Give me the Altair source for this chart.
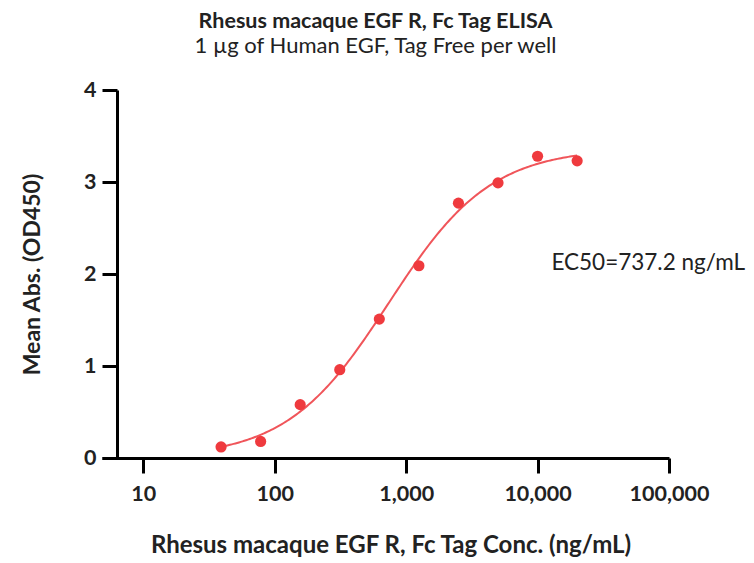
import altair as alt
import numpy as np
import pandas as pd

# Data
conc = [39.06, 78.13, 156.25, 312.5, 625, 1250, 2500, 5000, 10000, 20000]
od450 = [0.12, 0.18, 0.58, 0.96, 1.51, 2.09, 2.77, 2.99, 3.28, 3.23]
ec50 = 737.2
x_ticks = [10, 100, 1000, 10000, 100000]
y_ticks = [0, 1, 2, 3, 4]
ec50_label = "EC50=737.2 ng/mL"
ec50_label_pos = [12740, 2.12]

# 4PL fit with EC50 fixed (grid search least squares on the data points)
xc = np.array(conc, dtype=float)
yc = np.array(od450, dtype=float)
best = None
for b in np.linspace(0.0, 0.15, 16):
    for t in np.linspace(3.1, 3.7, 61):
        for h in np.linspace(0.8, 1.6, 81):
            pred = b + (t - b) / (1 + (ec50 / xc) ** h)
            sse = float(np.sum((pred - yc) ** 2))
            if best is None or sse < best[0]:
                best = (sse, b, t, h)
_, B, T, H = best
xs = np.logspace(np.log10(conc[0]), np.log10(conc[-1]), 200)
ys = B + (T - B) / (1 + (ec50 / xs) ** H)

pts = pd.DataFrame({"conc": conc, "od": od450})
curve = pd.DataFrame({"conc": xs, "od": ys})
lab = pd.DataFrame({"conc": [ec50_label_pos[0]], "od": [ec50_label_pos[1]], "t": [ec50_label]})

FONT = "Lato"
RED = "#EF3A3E"
INK = "#222222"

xscale = alt.Scale(type="log", domain=[4.85, 100000], nice=False)
yscale = alt.Scale(domain=[0, 4], nice=False, zero=True)

xaxis = alt.Axis(
    values=x_ticks, format=",", title="Rhesus macaque EGF R, Fc Tag Conc. (ng/mL)",
    grid=False, domainColor="black", domainWidth=3, tickColor="black", tickWidth=3,
    tickSize=15, labelFontSize=21.5, labelFontWeight="bold", labelColor=INK,
    labelFont=FONT, labelPadding=10, titleFont=FONT, titleFontSize=24,
    titleFontWeight="bold", titleColor=INK, titlePadding=29, titleX=288.5,
    labelFlush=False,
)
yaxis = alt.Axis(
    values=y_ticks, format="d", title="Mean Abs. (OD450)", offset=-15,
    grid=False, domainColor="black", domainWidth=3, tickColor="black", tickWidth=3,
    tickSize=15, labelFontSize=21.5, labelFontWeight="bold", labelColor=INK,
    labelFont=FONT, labelPadding=6, titleFont=FONT, titleFontSize=23,
    titleFontWeight="bold", titleColor=INK, titlePadding=39,
)

line = alt.Chart(curve).mark_line(color="#F0555A", strokeWidth=2).encode(
    x=alt.X("conc:Q", scale=xscale, axis=xaxis),
    y=alt.Y("od:Q", scale=yscale, axis=yaxis),
)
dots = alt.Chart(pts).mark_circle(color=RED, opacity=1, size=125).encode(
    x=alt.X("conc:Q", scale=xscale),
    y=alt.Y("od:Q", scale=yscale),
)
text = alt.Chart(lab).mark_text(align="left", baseline="middle", font=FONT, fontSize=22.5, color=INK).encode(
    x=alt.X("conc:Q", scale=xscale),
    y=alt.Y("od:Q", scale=yscale),
    text="t:N",
)

chart = (line + dots + text).properties(
    width=567, height=368,
    background="white",
    autosize=alt.AutoSizeParams(type="none"),
    padding={"left": 94, "top": 82, "right": 77, "bottom": 103},
    title=alt.TitleParams(
        text="Rhesus macaque EGF R, Fc Tag ELISA",
        subtitle="1 µg of Human EGF, Tag Free per well",
        font=FONT, fontSize=21.5, fontWeight="bold", color=INK,
        subtitleFont=FONT, subtitleFontSize=22, subtitleFontWeight="normal",
        subtitleColor=INK, subtitlePadding=4,
        anchor="middle", frame="group", dx=-10, offset=22,
    ),
).configure_view(strokeWidth=0)

chart.save("out.html", embed_options={"renderer": "svg", "actions": False})
